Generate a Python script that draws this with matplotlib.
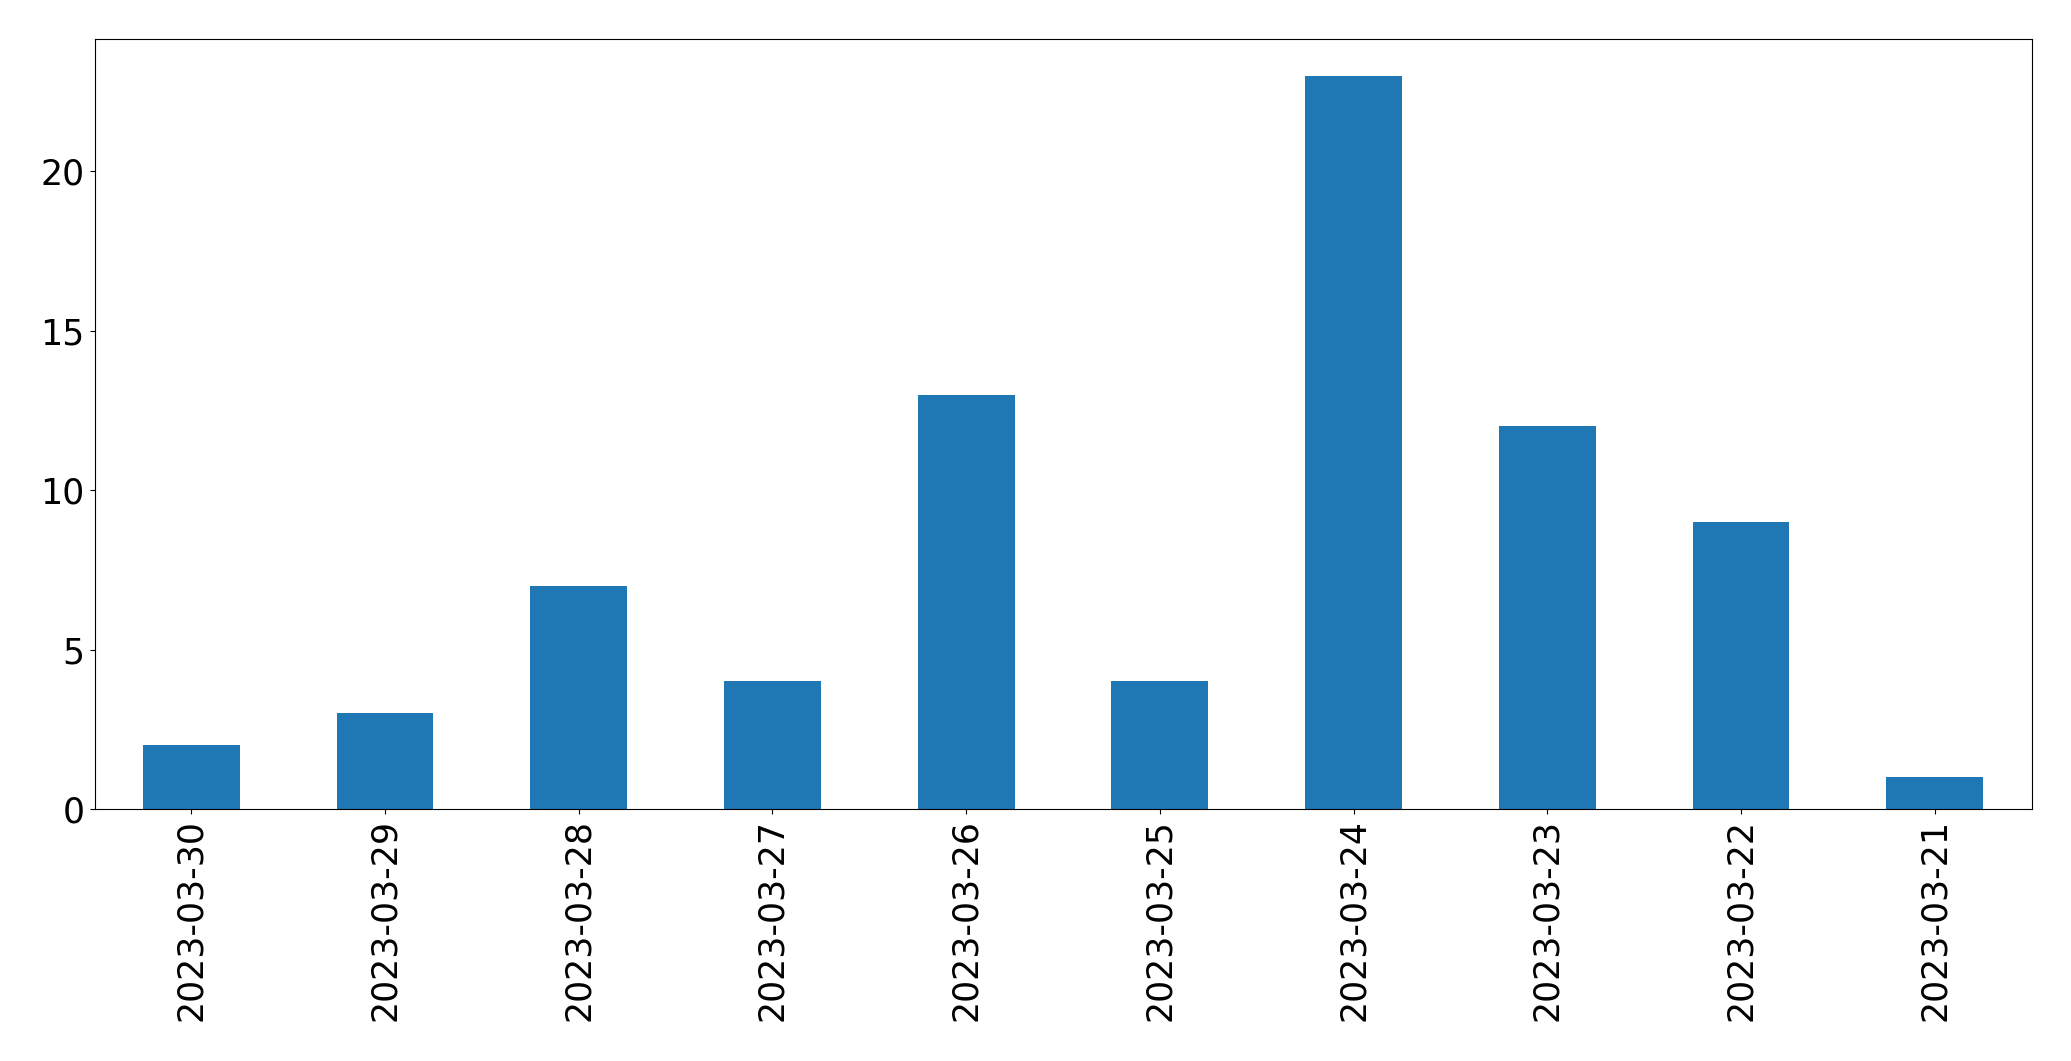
import matplotlib
matplotlib.use("Agg")
import matplotlib.pyplot as plt
import pandas as pd

dates = ["2023-03-30", "2023-03-29", "2023-03-28", "2023-03-27", "2023-03-26",
         "2023-03-25", "2023-03-24", "2023-03-23", "2023-03-22", "2023-03-21"]
counts = [2, 3, 7, 4, 13, 4, 23, 12, 9, 1]

plt.rcParams['font.size'] = 25

fig = plt.figure(figsize=(20.71, 10.61), dpi=100)
ax = fig.add_axes([94.5 / 2071, 1 - 809 / 1061, (2031.5 - 94.5) / 2071, (809 - 39) / 1061])
pd.Series(counts, index=dates).plot(kind="bar", ax=ax, color="#1f77b4")
ax.set_yticks([0, 5, 10, 15, 20])

fig.savefig("out.png", dpi=100)
